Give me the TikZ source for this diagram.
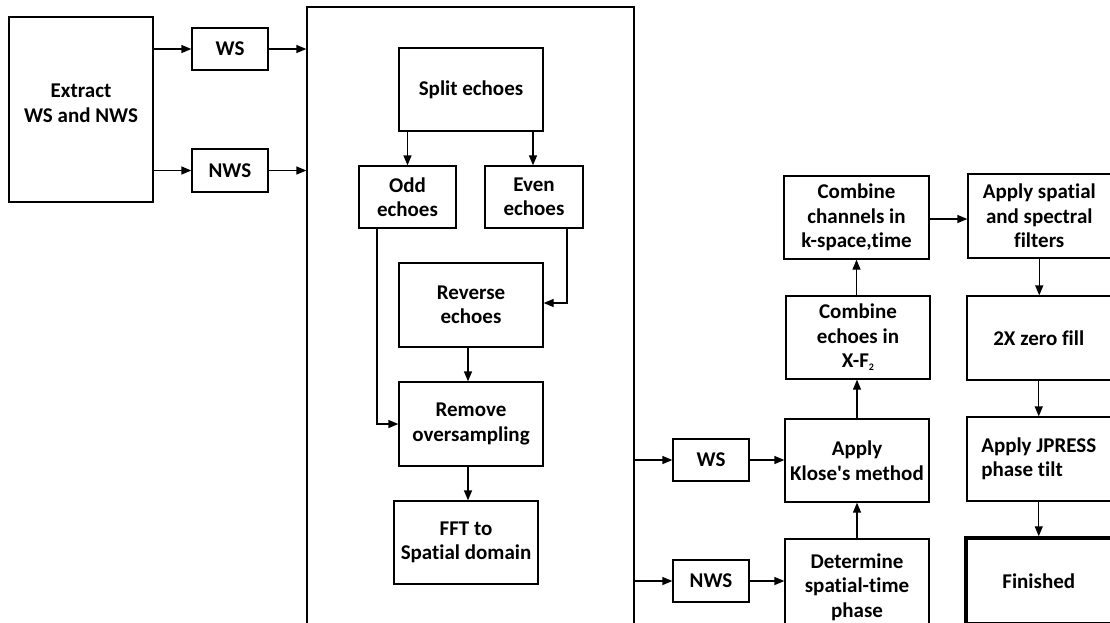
\documentclass[tikz,border=0pt]{standalone}
\usepackage{fontspec}
\setmainfont{Carlito}[Ligatures=NoCommon]
\usetikzlibrary{arrows.meta}
\tikzset{
  box/.style={draw, line width=1.3pt, inner sep=0pt, align=center,
    font=\fontsize{21}{24.5}\selectfont\bfseries},
  conn/.style={line width=1.3pt, -{Triangle[length=10pt,width=8pt]}},
  plain/.style={line width=1.3pt}
}
\begin{document}
\begin{tikzpicture}[x=1pt,y=-1pt]
\useasboundingbox (0,0) rectangle (1110,622);
% left part
\node[box, minimum width=144pt, minimum height=185pt] (extract) at (81,109.5) {Extract\\WS and NWS\\[-12pt]};
\node[box, minimum width=76pt, minimum height=42pt] (ws1) at (230,49) {WS};
\node[box, minimum width=76pt, minimum height=43pt] (nws1) at (230,170.5) {NWS};
\node[draw, line width=1.3pt, inner sep=0pt, minimum width=327pt, minimum height=633pt] (big) at (470.5,323.5) {};
% inside big box
\node[box, minimum width=144pt, minimum height=83pt] (split) at (471,89.5) {Split echoes};
\node[box, minimum width=97pt, minimum height=62pt] (odd) at (407.5,197) {Odd\\echoes};
\node[box, minimum width=98pt, minimum height=62pt] (even) at (534,197) {Even\\echoes};
\node[box, minimum width=144pt, minimum height=84pt] (reverse) at (471,305) {Reverse\\echoes};
\node[box, minimum width=144pt, minimum height=84pt] (remove) at (471,424) {Remove\\oversampling};
\node[box, minimum width=144pt, minimum height=83pt] (fft) at (466,542.5) {FFT to\\Spatial domain};
% right part
\node[box, minimum width=76pt, minimum height=42pt] (ws2) at (711,460) {WS};
\node[box, minimum width=76pt, minimum height=42pt] (nws2) at (711,581) {NWS};
\node[box, minimum width=144pt, minimum height=96pt] (det) at (857,587) {Determine\\spatial-time\\phase};
\node[box, minimum width=144pt, minimum height=83pt] (klose) at (857,460.5) {Apply\\Klose\textquotesingle s method};
\node[box, minimum width=144pt, minimum height=83pt] (echoes) at (858,337.5) {Combine\\echoes in\\X-F\raisebox{-3pt}{\fontsize{10}{10}\selectfont 2}};
\node[box, minimum width=145pt, minimum height=83pt] (channels) at (856.5,217.5) {Combine\\channels in\\k-space,time};
\node[box, minimum width=142.5pt, minimum height=84pt] (spatial) at (1039.25,216) {Apply spatial\\and spectral\\filters};
\node[box, minimum width=143.5pt, minimum height=84pt] (zero) at (1038.75,338) {2X zero fill};
\node[box, align=left, minimum width=143.5pt, minimum height=84pt] (jpress) at (1038.75,459) {Apply JPRESS\\phase tilt};
\node[box, line width=3.5pt, minimum width=145.5pt, minimum height=86pt] (finished) at (1038.75,581) {Finished};
% connectors left
\draw[conn] (extract.east |- ws1.west) -- (ws1.west);
\draw[conn] (extract.east |- nws1.west) -- (nws1.west);
\draw[conn] (ws1.east) -- (ws1.east -| big.west);
\draw[conn] (nws1.east) -- (nws1.east -| big.west);
\draw[conn] (odd.north |- split.south) -- (odd.north);
\draw[conn] ([xshift=-1pt]even.north |- split.south) -- ([xshift=-1pt]even.north);
\draw[conn] ([xshift=33pt]even.south) |- ([yshift=2pt]reverse.east);
\draw[conn] ([xshift=-30.5pt]odd.south) |- (remove.west);
\draw[conn] ([xshift=-3pt]reverse.south) -- ([xshift=-3pt]remove.north);
\draw[conn] ([xshift=-3pt]remove.south) -- ([xshift=-3pt]remove.south |- fft.north);
% connectors right
\draw[conn] (big.east |- ws2.west) -- (ws2.west);
\draw[conn] (big.east |- nws2.west) -- (nws2.west);
\draw[conn] (ws2.east) -- (ws2.east -| klose.west);
\draw[conn] (nws2.east) -- (nws2.east -| det.west);
\draw[conn] (det.north) -- (klose.south);
\draw[conn] (klose.north) -- (klose.north |- echoes.south);
\draw[conn] (echoes.north -| channels.south) -- (channels.south);
\draw[conn] ([yshift=-1.5pt]channels.east) -- ([yshift=-1.5pt]channels.east -| spatial.west);
\draw[conn] (spatial.south) -- (spatial.south |- zero.north);
\draw[conn] (zero.south) -- (jpress.north);
\draw[conn] (jpress.south) -- (jpress.south |- finished.north);
\end{tikzpicture}
\end{document}
